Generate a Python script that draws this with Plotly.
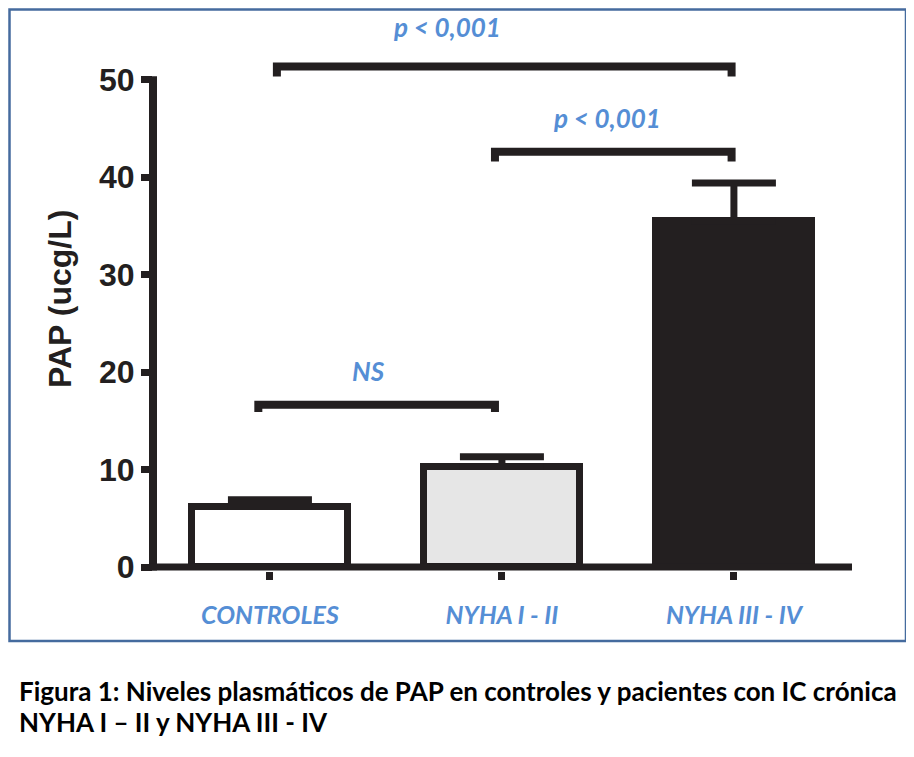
import plotly.graph_objects as go

# ---------------- data ----------------
categories = ["CONTROLES", "NYHA I - II", "NYHA III - IV"]
means = [6.2, 10.3, 35.5]
sem = [0.7, 1.0, 3.9]
bar_fill = ["#ffffff", "#e6e6e6", "#231f20"]

y_ticks = [0, 10, 20, 30, 40, 50]

# significance brackets
bracket_left = [0.03, 0.97, -0.05]
bracket_right = [1.99, 1.99, 0.97]
bracket_y = [51.35, 42.6, 16.65]
bracket_leg = [50.3, 41.6, 15.9]
bracket_labels = ["p < 0,001", "p < 0,001", "NS"]
label_x = [0.763, 1.454, 0.427]
label_y = [55.4, 46.1, 20.1]

y_title = "PAP (ucg/L)"
caption_lines = [
    "Figura 1: Niveles plasmáticos de PAP en controles y pacientes con IC crónica",
    "NYHA I – II y NYHA III - IV",
]

# ---------------- layout helpers ----------------
OFF = 8                      # page body margin of the html page
W, H = 906, 749
L, R, T, B = 145, 62, 42, 186
PW, PH = W - L - R, H - T - B
Y0, Y1 = -0.41, 53.03


def px_x(px):
    return (px - OFF - L) / PW


def px_y(py):
    return (H - B - (py - OFF)) / PH


def y_val_to_paper(v):
    return (v - Y0) / (Y1 - Y0)


INK = "#231f20"
BLUE = "#558ED5"
BORDER = "#456b9e"

fig = go.Figure()

fig.add_trace(go.Bar(
    x=[0, 1, 2], y=means, width=0.67,
    marker=dict(color=bar_fill, line=dict(color=INK, width=7)),
    error_y=dict(type="data", array=sem, arrayminus=[0, 0, 0], symmetric=False,
                 thickness=7, width=42, color=INK),
    showlegend=False, hoverinfo="skip",
))

for xl, xr, yb, yl in zip(bracket_left, bracket_right, bracket_y, bracket_leg):
    fig.add_trace(go.Scatter(
        x=[xl, xl, xr, xr], y=[yl, yb, yb, yl], mode="lines",
        line=dict(color=INK, width=8), showlegend=False, hoverinfo="skip",
    ))

annotations = []
for t, lx, ly in zip(bracket_labels, label_x, label_y):
    annotations.append(dict(
        x=lx, y=y_val_to_paper(ly), xref="x", yref="paper", text=t, showarrow=False,
        font=dict(family="Lato", size=26, color=BLUE, weight="bold", style="italic"),
        xanchor="center", yanchor="middle",
    ))

annotations.append(dict(
    x=px_x(60), y=px_y(299), xref="paper", yref="paper", text=y_title,
    textangle=-90, showarrow=False,
    font=dict(family="Liberation Sans", size=32, color=INK, weight="bold"),
    xanchor="center", yanchor="middle",
))

for i, line in enumerate(caption_lines):
    annotations.append(dict(
        x=px_x(17), y=px_y(691 + 31 * i), xref="paper", yref="paper", text=line,
        showarrow=False, xanchor="left", yanchor="middle",
        font=dict(family="Lato", size=26, color="black", weight="bold"),
    ))

shapes = [
    # y axis line (stops at the top tick)
    dict(type="line", xref="paper", yref="y", x0=0, x1=0, y0=-0.36,
         y1=y_ticks[-1] + 0.35, line=dict(color=INK, width=8)),
    # x axis line
    dict(type="line", xref="paper", yref="y", x0=px_x(149), x1=1, y0=0, y1=0,
         line=dict(color=INK, width=7)),
    # outer frame (kept inside the figure area)
    dict(type="rect", xref="paper", yref="paper", x0=px_x(OFF + 1.5), x1=px_x(906),
         y0=px_y(641), y1=px_y(OFF + 1.5), line=dict(color=BORDER, width=2.5)),
]

fig.update_layout(
    width=W, height=H,
    margin=dict(l=L, r=R, t=T, b=B),
    paper_bgcolor="white", plot_bgcolor="white",
    annotations=annotations, shapes=shapes,
    bargap=0,
)

fig.update_xaxes(
    range=[-0.504, 2.509], tickmode="array", tickvals=[0, 1, 2], ticktext=categories,
    ticks="outside", ticklen=8, tickwidth=7, tickcolor=INK,
    showline=False, showgrid=False, zeroline=False, ticklabelstandoff=14,
    tickfont=dict(family="Lato", size=25, color=BLUE, weight="bold", style="italic"),
)
fig.update_yaxes(
    range=[Y0, Y1], tickmode="array", tickvals=y_ticks,
    ticks="outside", ticklen=11, tickwidth=7, tickcolor=INK,
    showline=False, showgrid=False, zeroline=False,
    tickfont=dict(family="Liberation Sans", size=32, color=INK, weight="bold"),
)

fig.write_html("out.html")
